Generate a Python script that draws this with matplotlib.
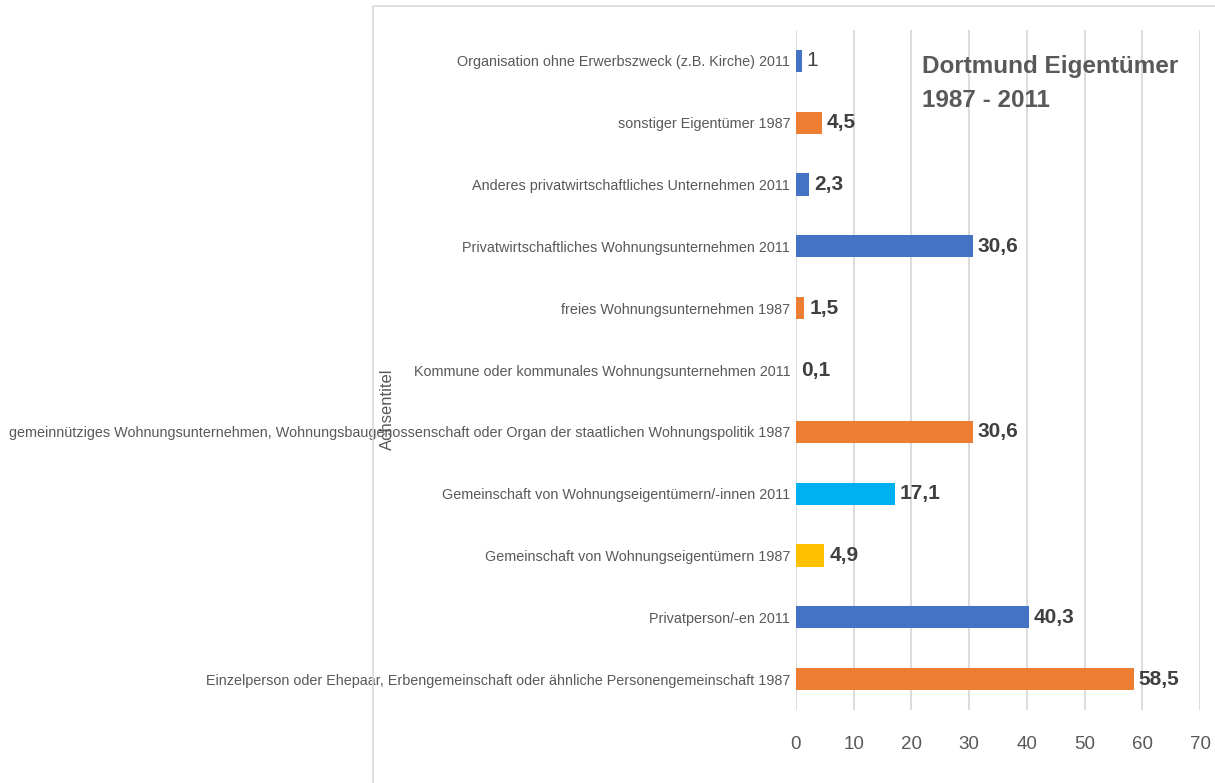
import matplotlib
matplotlib.use('Agg')
from matplotlib import pyplot as plt
from matplotlib.lines import Line2D

categories = [
    'Einzelperson oder Ehepaar, Erbengemeinschaft oder ähnliche Personengemeinschaft 1987',
    'Privatperson/-en 2011',
    'Gemeinschaft von Wohnungseigentümern 1987',
    'Gemeinschaft von Wohnungseigentümern/-innen 2011',
    'gemeinnütziges Wohnungsunternehmen, Wohnungsbaugenossenschaft oder Organ der staatlichen Wohnungspolitik 1987',
    'Kommune oder kommunales Wohnungsunternehmen 2011',
    'freies Wohnungsunternehmen 1987',
    'Privatwirtschaftliches Wohnungsunternehmen 2011',
    'Anderes privatwirtschaftliches Unternehmen 2011',
    'sonstiger Eigentümer 1987',
    'Organisation ohne Erwerbszweck (z.B. Kirche) 2011',
]
values = [58.5, 40.3, 4.9, 17.1, 30.6, 0.1, 1.5, 30.6, 2.3, 4.5, 1]
bar_colors = ['#ED7D31', '#4472C4', '#FFC000', '#00B0F0', '#ED7D31', '#4472C4',
              '#ED7D31', '#4472C4', '#4472C4', '#ED7D31', '#4472C4']
xticks = [0, 10, 20, 30, 40, 50, 60, 70]

fam = ['Liberation Sans', 'DejaVu Sans']
grey = '#595959'

fig = plt.figure(figsize=(12.15, 7.83), dpi=100)
ax = fig.add_axes([0.655, 0.0932, 0.3327, 0.8685])

y = range(len(values))
ax.barh(y, values, height=0.36, color=bar_colors, zorder=3)
ax.set_xlim(0, 70)
ax.set_ylim(-0.5, len(values) - 0.5)
ax.set_xticks(xticks)
ax.set_xticklabels([str(t) for t in xticks], fontsize=13.5, color=grey, family=fam)
ax.set_yticks(list(y))
ax.set_yticklabels(categories, fontsize=10.4, color=grey, family=fam)
ax.tick_params(axis='both', length=0, pad=4)
ax.tick_params(axis='x', pad=19)
ax.grid(axis='x', color='#D9D9D9', linewidth=1.3, zorder=0)
for s in ax.spines.values():
    s.set_visible(False)

# value labels, decimal comma as in the source
for i, v in enumerate(values):
    txt = f'{v:g}'.replace('.', ',')
    ax.text(v + 0.9, i, txt, va='center', ha='left', fontsize=15,
            fontweight='bold' if v != 1 else 'normal', color='#404040', family=fam)

fig.text(0.7588, 0.93, 'Dortmund Eigentümer\n1987 - 2011', ha='left', va='top',
         fontsize=17.5, fontweight='bold', color=grey, family=fam, linespacing=1.6)
fig.text(0.3185, 0.477, 'Achsentitel', rotation=90, ha='center', va='center',
         fontsize=12, color=grey, family=fam)

# chart area border (top and left edge)
fig.add_artist(Line2D([0.307, 0.307, 1.0], [0.0, 0.992, 0.992], color='#D9D9D9', linewidth=1.2))

fig.savefig('out.png', dpi=100)
